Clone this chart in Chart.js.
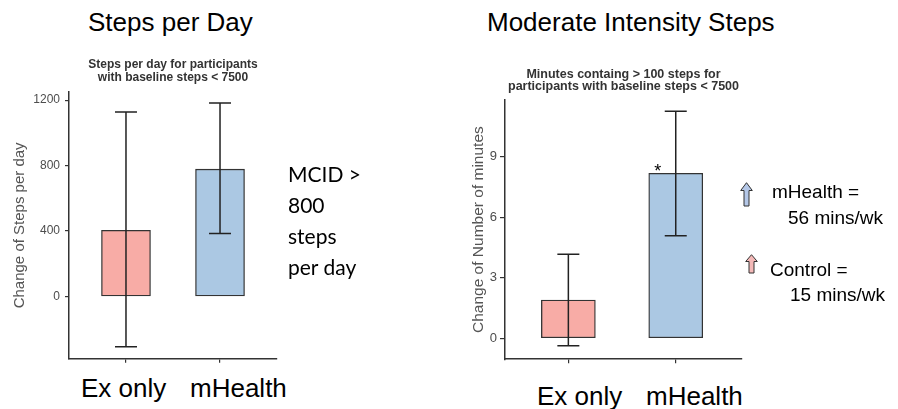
<!DOCTYPE html>
<html>
<head>
    <title>Steps per Day / Moderate Intensity Steps</title>
    <script src="https://cdn.jsdelivr.net/npm/chart.js"></script>
    <style>
        body {
            margin: 0;
            background: #fff;
            font-family: "Liberation Sans", Arial, sans-serif;
        }
        .page {
            position: relative;
            width: 898px;
            height: 409px;
            overflow: hidden;
        }
        .page canvas, .txt, .arrow {
            position: absolute;
        }
        .txt {
            white-space: nowrap;
            color: #000;
        }
        .big {
            font-size: 26px;
            line-height: 30px;
        }
        .mcid {
            font-family: Lato, "Open Sans", sans-serif;
            font-size: 21px;
            line-height: 31px;
        }
        .note {
            font-size: 19px;
            line-height: 26px;
        }
    </style>
</head>
<body>
<div class="page">
    <div class="txt big" style="left:88px; top:7px;">Steps per Day</div>
    <div class="txt big" style="left:487px; top:7px;">Moderate Intensity Steps</div>

    <canvas id="stepsChart" width="290" height="321" style="left:0; top:50px;"></canvas>
    <canvas id="minutesChart" width="310" height="310" style="left:440px; top:60px;"></canvas>

    <div class="txt big" style="left:81px; top:373px;">Ex only</div>
    <div class="txt big" style="left:190px; top:373px;">mHealth</div>
    <div class="txt big" style="left:537px; top:381px;">Ex only</div>
    <div class="txt big" style="left:646px; top:381px;">mHealth</div>

    <div class="txt mcid" style="left:288px; top:158px;">MCID &gt;<br>800<br>steps<br>per day</div>

    <svg class="arrow" style="left:740px; top:182px;" width="13" height="25">
        <path d="M6.5 0.7 L12.3 8.5 L9 8.5 L9 24 L4 24 L4 8.5 L0.7 8.5 Z" fill="#b4c7e7" stroke="#333" stroke-width="1"/>
    </svg>
    <svg class="arrow" style="left:745px; top:254px;" width="13" height="20">
        <path d="M6.5 0.7 L12.3 7.5 L9 7.5 L9 19 L4 19 L4 7.5 L0.7 7.5 Z" fill="#f4b9b8" stroke="#333" stroke-width="1"/>
    </svg>
    <div class="txt note" style="left:772px; top:179px;">mHealth =</div>
    <div class="txt note" style="left:788px; top:205px;">56 mins/wk</div>
    <div class="txt note" style="left:770px; top:257px;">Control =</div>
    <div class="txt note" style="left:790px; top:282px;">15 mins/wk</div>
</div>

<script>
    // groups shown on both panels
    const groups = ['Ex only', 'mHealth'];
    const barFill = ['#f8aca6', '#abc8e3'];

    // left panel: change of steps per day (mean, error bar ends)
    const stepsMean = [405, 778];
    const stepsLow = [-307, 385];
    const stepsHigh = [1127, 1183];
    const stepsTicks = [0, 400, 800, 1200];

    // right panel: change of minutes with > 100 steps
    const minutesMean = [1.9, 8.17];
    const minutesLow = [-0.36, 5.08];
    const minutesHigh = [4.17, 11.24];
    const minutesTicks = [0, 3, 6, 9];
    const minutesSig = ['', '*'];

    const axisColor = '#333';
    const tickColor = '#4d4d4d';

    // whiskers drawn through the y scale
    const errorBars = {
        id: 'errorBars',
        afterDatasetsDraw(chart, args, opts) {
            const ctx = chart.ctx;
            const y = chart.scales.y;
            const meta = chart.getDatasetMeta(0);
            ctx.save();
            ctx.strokeStyle = '#222';
            ctx.lineWidth = 1.5;
            meta.data.forEach((bar, i) => {
                const top = y.getPixelForValue(opts.high[i]);
                const bottom = y.getPixelForValue(opts.low[i]);
                const half = opts.cap / 2;
                ctx.beginPath();
                ctx.moveTo(bar.x, top);
                ctx.lineTo(bar.x, bottom);
                ctx.moveTo(bar.x - half, top);
                ctx.lineTo(bar.x + half, top);
                ctx.moveTo(bar.x - half, bottom);
                ctx.lineTo(bar.x + half, bottom);
                ctx.stroke();
                if (opts.marks && opts.marks[i]) {
                    ctx.fillStyle = '#000';
                    ctx.font = '18px "Liberation Sans", Arial';
                    ctx.textAlign = 'center';
                    ctx.textBaseline = 'alphabetic';
                    ctx.fillText(opts.marks[i], bar.x - 18, bar.y + 4);
                }
            });
            ctx.restore();
        }
    };

    function makeChart(id, cfg) {
        return new Chart(document.getElementById(id), {
            type: 'bar',
            data: {
                datasets: [{
                    data: groups.map((g, i) => ({ x: i, y: cfg.mean[i] })),
                    backgroundColor: barFill,
                    borderColor: axisColor,
                    borderWidth: 1.3,
                    borderSkipped: false,
                    barThickness: cfg.barWidth
                }]
            },
            options: {
                responsive: false,
                animation: false,
                layout: { padding: { top: 0, right: cfg.padRight, bottom: 0, left: 0 } },
                plugins: {
                    legend: { display: false },
                    tooltip: { enabled: false },
                    title: {
                        display: true,
                        text: cfg.title,
                        fullSize: false,
                        color: '#333',
                        font: { family: '"Liberation Sans", Arial', size: cfg.titleSize, weight: 'bold', lineHeight: cfg.titleLine },
                        padding: cfg.titlePad
                    },
                    errorBars: { low: cfg.low, high: cfg.high, cap: 22, marks: cfg.marks }
                },
                scales: {
                    x: {
                        type: 'linear',
                        min: cfg.xMin,
                        max: cfg.xMax,
                        offset: false,
                        afterBuildTicks: s => { s.ticks = groups.map((g, i) => ({ value: i })); },
                        afterFit: s => { s.height = 8; },
                        ticks: { display: false },
                        grid: { offset: false, drawOnChartArea: false, tickLength: 4, color: axisColor, lineWidth: 1.2 },
                        border: { display: true, color: axisColor, width: 1.5 }
                    },
                    y: {
                        min: cfg.yMin,
                        max: cfg.yMax,
                        afterBuildTicks: s => { s.ticks = cfg.ticks.map(v => ({ value: v })); },
                        afterFit: s => { s.width = cfg.yWidth; },
                        ticks: {
                            color: tickColor,
                            padding: cfg.tickPad,
                            font: { family: '"Liberation Sans", Arial', size: cfg.tickSize },
                            callback: v => String(v)
                        },
                        grid: { drawOnChartArea: false, tickLength: cfg.tickLen, color: axisColor, lineWidth: 1.2 },
                        border: { display: true, color: axisColor, width: 1.5 },
                        title: {
                            display: true,
                            text: cfg.yTitle,
                            color: '#555',
                            font: { family: '"Liberation Sans", Arial', size: cfg.yTitleSize },
                            padding: { top: cfg.yTitlePad, bottom: 0 }
                        }
                    }
                }
            },
            plugins: [errorBars]
        });
    }

    makeChart('stepsChart', {
        mean: stepsMean, low: stepsLow, high: stepsHigh, ticks: stepsTicks, marks: null,
        title: ['Steps per day for participants', 'with baseline steps < 7500'],
        titleSize: 12, titleLine: 1.08, titlePad: { top: 8.5, bottom: 7.5 },
        barWidth: 49, padRight: 13, xMin: -0.606, xMax: 1.606,
        yMin: -380, yMax: 1250, yWidth: 69, tickPad: 5, tickLen: 4, tickSize: 12,
        yTitle: 'Change of Steps per day', yTitleSize: 15, yTitlePad: 11
    });

    makeChart('minutesChart', {
        mean: minutesMean, low: minutesLow, high: minutesHigh, ticks: minutesTicks, marks: minutesSig,
        title: ['Minutes containg > 100 steps for', 'participants with baseline steps < 7500'],
        titleSize: 12.5, titleLine: 0.96, titlePad: { top: 9, bottom: 7 },
        barWidth: 54, padRight: 8, xMin: -0.59, xMax: 1.617,
        yMin: -1.03, yMax: 11.8, yWidth: 65, tickPad: 3, tickLen: 5, tickSize: 13,
        yTitle: 'Change of Number of minutes', yTitleSize: 15.5, yTitlePad: 29
    });
</script>
</body>
</html>
